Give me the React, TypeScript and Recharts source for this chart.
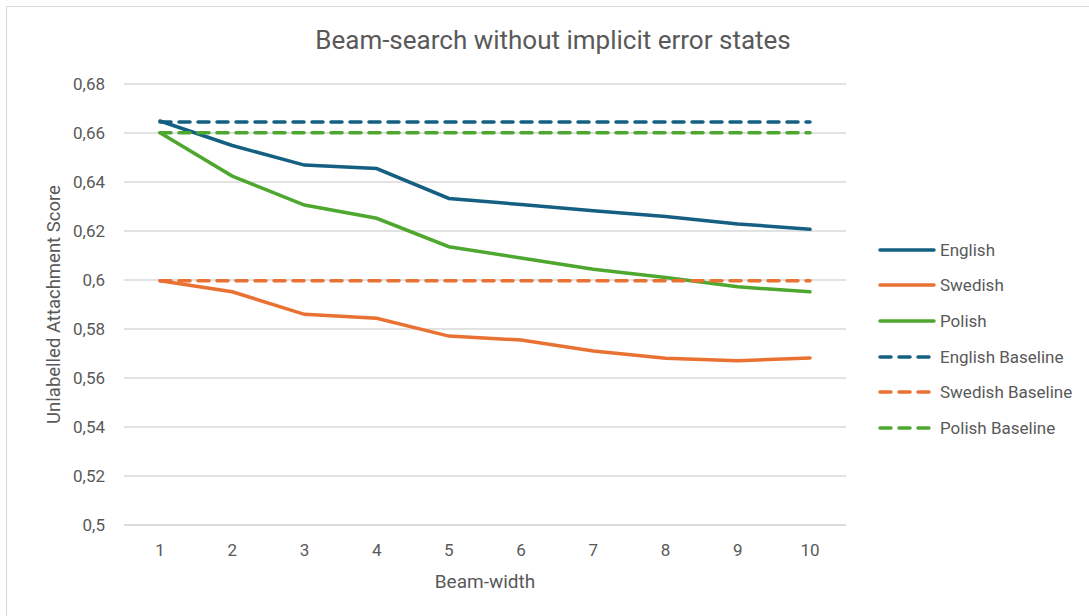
import React from "react";
import {
  LineChart,
  Line,
  XAxis,
  YAxis,
  CartesianGrid,
  Legend,
} from "recharts";

const beamWidths = [1, 2, 3, 4, 5, 6, 7, 8, 9, 10];
const english = [0.6649, 0.6549, 0.6469, 0.6455, 0.6333, 0.6308, 0.6283, 0.6259, 0.6229, 0.6207];
const swedish = [0.5997, 0.5952, 0.586, 0.5844, 0.5771, 0.5755, 0.571, 0.5681, 0.567, 0.5682];
const polish = [0.6601, 0.6424, 0.6306, 0.6252, 0.6136, 0.609, 0.6044, 0.601, 0.5972, 0.5952];
const englishBaseline = 0.6645;
const swedishBaseline = 0.5997;
const polishBaseline = 0.6601;
const yTicks = [0.5, 0.52, 0.54, 0.56, 0.58, 0.6, 0.62, 0.64, 0.66, 0.68];

const data = beamWidths.map((b, i) => ({
  beam: b,
  English: english[i],
  Swedish: swedish[i],
  Polish: polish[i],
  "English Baseline": englishBaseline,
  "Swedish Baseline": swedishBaseline,
  "Polish Baseline": polishBaseline,
}));

const BLUE = "#156082";
const ORANGE = "#E97132";
const GREEN = "#4EA72E";
const TEXT = "#595959";
const GRID = "#d9d9d9";
const DASH = "11 8";

const seriesList = [
  { key: "English", color: BLUE, dashed: false },
  { key: "Swedish", color: ORANGE, dashed: false },
  { key: "Polish", color: GREEN, dashed: false },
  { key: "English Baseline", color: BLUE, dashed: true },
  { key: "Swedish Baseline", color: ORANGE, dashed: true },
  { key: "Polish Baseline", color: GREEN, dashed: true },
];

const fmt = (v: number) => String(v).replace(".", ",");

const LegendContent = () => (
  <div>
    {seriesList.map((s) => (
      <div
        key={s.key}
        style={{ height: 35.6, display: "flex", alignItems: "center" }}
      >
        <svg width={62} height={10} style={{ flex: "none" }}>
          <line
            x1={2}
            x2={s.dashed ? 52 : 56}
            y1={5}
            y2={5}
            stroke={s.color}
            strokeWidth={3.5}
            strokeLinecap="round"
            strokeDasharray={s.dashed ? DASH : undefined}
          />
        </svg>
        <span style={{ fontSize: 17, color: TEXT, whiteSpace: "nowrap" }}>
          {s.key}
        </span>
      </div>
    ))}
  </div>
);

const YLabel = (props: any) => {
  const { viewBox } = props;
  const x = viewBox.x + 24;
  const y = viewBox.y + viewBox.height / 2;
  return (
    <text
      x={x}
      y={y}
      transform={`rotate(-90, ${x}, ${y})`}
      textAnchor="middle"
      dominantBaseline="central"
      fill={TEXT}
      fontSize={18.5}
    >
      Unlabelled Attachment Score
    </text>
  );
};

export default function App() {
  return (
    <div
      style={{
        position: "absolute",
        left: 0,
        top: 0,
        width: 1089,
        height: 616,
        overflow: "hidden",
        background: "#fff",
        fontFamily: "Roboto, sans-serif",
      }}
    >
      <div
        style={{
          position: "absolute",
          left: 6,
          top: 6,
          width: 1100,
          height: 640,
          border: `1px solid ${GRID}`,
        }}
      />
      <div
        style={{
          position: "absolute",
          left: 6,
          top: 26,
          width: 1094,
          textAlign: "center",
          fontSize: 26,
          lineHeight: "28px",
          color: TEXT,
        }}
      >
        Beam-search without implicit error states
      </div>
      <div style={{ position: "absolute", left: 0, top: 0 }}>
        <LineChart
          width={1089}
          height={616}
          data={data}
          margin={{ top: 84, right: 43, bottom: 21, left: 30 }}
        >
          <CartesianGrid vertical={false} stroke={GRID} strokeWidth={1.3} />
          <XAxis
            dataKey="beam"
            height={70}
            padding={{ left: 36, right: 36 }}
            axisLine={{ stroke: GRID, strokeWidth: 1.3 }}
            tickLine={false}
            tickMargin={13}
            tick={{ fill: TEXT, fontSize: 17 }}
            label={{
              value: "Beam-width",
              position: "insideBottom",
              offset: 7,
              fill: TEXT,
              fontSize: 19,
            }}
          />
          <YAxis
            width={94}
            domain={[0.5, 0.68]}
            ticks={yTicks}
            axisLine={false}
            tickLine={false}
            tickMargin={13}
            tickFormatter={fmt}
            tick={{ fill: TEXT, fontSize: 17 }}
            label={<YLabel />}
          />
          <Legend
            layout="vertical"
            align="right"
            verticalAlign="middle"
            content={<LegendContent />}
            wrapperStyle={{ left: 878, top: 232, width: 200, right: "auto" }}
          />
          {seriesList.map((s) => (
            <Line
              key={s.key}
              type="linear"
              dataKey={s.key}
              stroke={s.color}
              strokeWidth={3.5}
              strokeLinecap="round"
              strokeDasharray={s.dashed ? DASH : undefined}
              dot={false}
              activeDot={false}
              isAnimationActive={false}
            />
          ))}
        </LineChart>
      </div>
    </div>
  );
}
